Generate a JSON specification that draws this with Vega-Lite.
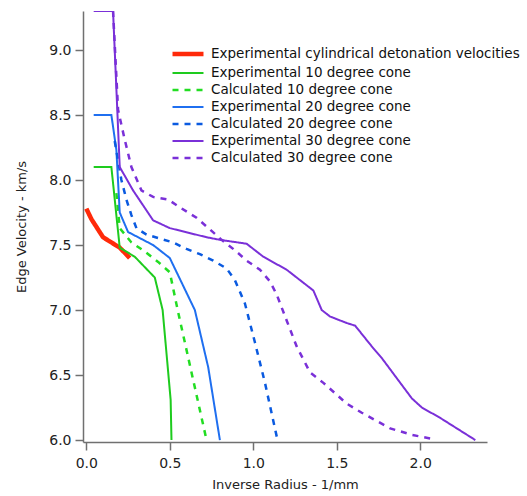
{
  "$schema": "https://vega.github.io/schema/vega-lite/v6.json",
  "autosize": {"type": "none"},
  "padding": {"left": 83, "top": 11, "right": 40, "bottom": 54},
  "width": 404,
  "height": 431,
  "background": "white",
  "config": {
    "font": "DejaVu Sans",
    "view": {"stroke": null},
    "axis": {
      "grid": false,
      "domainColor": "#707070",
      "domainWidth": 1.5,
      "tickColor": "#707070",
      "tickWidth": 1.5,
      "tickSize": 8,
      "labelFont": "DejaVu Sans",
      "labelFontSize": 14,
      "labelColor": "#222222",
      "titleFont": "DejaVu Sans",
      "titleFontSize": 13,
      "titleFontWeight": "normal",
      "titleColor": "#222222"
    }
  },
  "data": {
    "values": [
      {"s": "Experimental cylindrical detonation velocities", "x": 0.0, "y": 7.78},
      {"s": "Experimental cylindrical detonation velocities", "x": 0.03, "y": 7.70},
      {"s": "Experimental cylindrical detonation velocities", "x": 0.06, "y": 7.64},
      {"s": "Experimental cylindrical detonation velocities", "x": 0.10, "y": 7.56},
      {"s": "Experimental cylindrical detonation velocities", "x": 0.15, "y": 7.52},
      {"s": "Experimental cylindrical detonation velocities", "x": 0.20, "y": 7.48},
      {"s": "Experimental cylindrical detonation velocities", "x": 0.26, "y": 7.40},

      {"s": "Experimental 10 degree cone", "x": 0.044, "y": 8.10},
      {"s": "Experimental 10 degree cone", "x": 0.15, "y": 8.10},
      {"s": "Experimental 10 degree cone", "x": 0.20, "y": 7.48},
      {"s": "Experimental 10 degree cone", "x": 0.29, "y": 7.41},
      {"s": "Experimental 10 degree cone", "x": 0.41, "y": 7.25},
      {"s": "Experimental 10 degree cone", "x": 0.457, "y": 7.0},
      {"s": "Experimental 10 degree cone", "x": 0.505, "y": 6.31},
      {"s": "Experimental 10 degree cone", "x": 0.51, "y": 6.0},

      {"s": "Calculated 10 degree cone", "x": 0.18, "y": 7.9},
      {"s": "Calculated 10 degree cone", "x": 0.20, "y": 7.63},
      {"s": "Calculated 10 degree cone", "x": 0.27, "y": 7.52},
      {"s": "Calculated 10 degree cone", "x": 0.35, "y": 7.45},
      {"s": "Calculated 10 degree cone", "x": 0.43, "y": 7.37},
      {"s": "Calculated 10 degree cone", "x": 0.50, "y": 7.29},
      {"s": "Calculated 10 degree cone", "x": 0.547, "y": 7.0},
      {"s": "Calculated 10 degree cone", "x": 0.63, "y": 6.52},
      {"s": "Calculated 10 degree cone", "x": 0.72, "y": 6.0},

      {"s": "Experimental 20 degree cone", "x": 0.044, "y": 8.5},
      {"s": "Experimental 20 degree cone", "x": 0.15, "y": 8.5},
      {"s": "Experimental 20 degree cone", "x": 0.18, "y": 8.23},
      {"s": "Experimental 20 degree cone", "x": 0.20, "y": 7.75},
      {"s": "Experimental 20 degree cone", "x": 0.25, "y": 7.60},
      {"s": "Experimental 20 degree cone", "x": 0.40, "y": 7.50},
      {"s": "Experimental 20 degree cone", "x": 0.50, "y": 7.40},
      {"s": "Experimental 20 degree cone", "x": 0.65, "y": 7.0},
      {"s": "Experimental 20 degree cone", "x": 0.73, "y": 6.56},
      {"s": "Experimental 20 degree cone", "x": 0.80, "y": 6.0},

      {"s": "\u00a0Calculated 20 degree cone", "x": 0.17, "y": 8.3},
      {"s": "\u00a0Calculated 20 degree cone", "x": 0.21, "y": 8.0},
      {"s": "\u00a0Calculated 20 degree cone", "x": 0.24, "y": 7.85},
      {"s": "\u00a0Calculated 20 degree cone", "x": 0.27, "y": 7.73},
      {"s": "\u00a0Calculated 20 degree cone", "x": 0.30, "y": 7.63},
      {"s": "\u00a0Calculated 20 degree cone", "x": 0.36, "y": 7.58},
      {"s": "\u00a0Calculated 20 degree cone", "x": 0.44, "y": 7.55},
      {"s": "\u00a0Calculated 20 degree cone", "x": 0.52, "y": 7.52},
      {"s": "\u00a0Calculated 20 degree cone", "x": 0.60, "y": 7.47},
      {"s": "\u00a0Calculated 20 degree cone", "x": 0.68, "y": 7.43},
      {"s": "\u00a0Calculated 20 degree cone", "x": 0.76, "y": 7.38},
      {"s": "\u00a0Calculated 20 degree cone", "x": 0.84, "y": 7.32},
      {"s": "\u00a0Calculated 20 degree cone", "x": 0.89, "y": 7.23},
      {"s": "\u00a0Calculated 20 degree cone", "x": 0.92, "y": 7.14},
      {"s": "\u00a0Calculated 20 degree cone", "x": 0.95, "y": 7.05},
      {"s": "\u00a0Calculated 20 degree cone", "x": 1.01, "y": 6.75},
      {"s": "\u00a0Calculated 20 degree cone", "x": 1.07, "y": 6.44},
      {"s": "\u00a0Calculated 20 degree cone", "x": 1.145, "y": 6.0},

      {"s": "Experimental 30 degree cone", "x": 0.044, "y": 9.3},
      {"s": "Experimental 30 degree cone", "x": 0.16, "y": 9.3},
      {"s": "Experimental 30 degree cone", "x": 0.20, "y": 8.1},
      {"s": "Experimental 30 degree cone", "x": 0.28, "y": 7.92},
      {"s": "Experimental 30 degree cone", "x": 0.40, "y": 7.69},
      {"s": "Experimental 30 degree cone", "x": 0.50, "y": 7.63},
      {"s": "Experimental 30 degree cone", "x": 0.72, "y": 7.56},
      {"s": "Experimental 30 degree cone", "x": 0.80, "y": 7.54},
      {"s": "Experimental 30 degree cone", "x": 0.96, "y": 7.51},
      {"s": "Experimental 30 degree cone", "x": 1.06, "y": 7.41},
      {"s": "Experimental 30 degree cone", "x": 1.20, "y": 7.31},
      {"s": "Experimental 30 degree cone", "x": 1.36, "y": 7.15},
      {"s": "Experimental 30 degree cone", "x": 1.41, "y": 7.0},
      {"s": "Experimental 30 degree cone", "x": 1.46, "y": 6.95},
      {"s": "Experimental 30 degree cone", "x": 1.56, "y": 6.90},
      {"s": "Experimental 30 degree cone", "x": 1.61, "y": 6.88},
      {"s": "Experimental 30 degree cone", "x": 1.71, "y": 6.72},
      {"s": "Experimental 30 degree cone", "x": 1.77, "y": 6.63},
      {"s": "Experimental 30 degree cone", "x": 1.95, "y": 6.32},
      {"s": "Experimental 30 degree cone", "x": 2.01, "y": 6.25},
      {"s": "Experimental 30 degree cone", "x": 2.12, "y": 6.17},
      {"s": "Experimental 30 degree cone", "x": 2.33, "y": 6.0},

      {"s": "\u00a0Calculated 30 degree cone", "x": 0.16, "y": 9.3},
      {"s": "\u00a0Calculated 30 degree cone", "x": 0.19, "y": 8.54},
      {"s": "\u00a0Calculated 30 degree cone", "x": 0.23, "y": 8.31},
      {"s": "\u00a0Calculated 30 degree cone", "x": 0.27, "y": 8.10},
      {"s": "\u00a0Calculated 30 degree cone", "x": 0.33, "y": 7.92},
      {"s": "\u00a0Calculated 30 degree cone", "x": 0.40, "y": 7.87},
      {"s": "\u00a0Calculated 30 degree cone", "x": 0.49, "y": 7.85},
      {"s": "\u00a0Calculated 30 degree cone", "x": 0.56, "y": 7.79},
      {"s": "\u00a0Calculated 30 degree cone", "x": 0.66, "y": 7.71},
      {"s": "\u00a0Calculated 30 degree cone", "x": 0.74, "y": 7.62},
      {"s": "\u00a0Calculated 30 degree cone", "x": 0.81, "y": 7.54},
      {"s": "\u00a0Calculated 30 degree cone", "x": 0.89, "y": 7.46},
      {"s": "\u00a0Calculated 30 degree cone", "x": 0.96, "y": 7.38},
      {"s": "\u00a0Calculated 30 degree cone", "x": 1.04, "y": 7.31},
      {"s": "\u00a0Calculated 30 degree cone", "x": 1.10, "y": 7.22},
      {"s": "\u00a0Calculated 30 degree cone", "x": 1.14, "y": 7.12},
      {"s": "\u00a0Calculated 30 degree cone", "x": 1.20, "y": 6.92},
      {"s": "\u00a0Calculated 30 degree cone", "x": 1.26, "y": 6.72},
      {"s": "\u00a0Calculated 30 degree cone", "x": 1.34, "y": 6.52},
      {"s": "\u00a0Calculated 30 degree cone", "x": 1.42, "y": 6.44},
      {"s": "\u00a0Calculated 30 degree cone", "x": 1.56, "y": 6.28},
      {"s": "\u00a0Calculated 30 degree cone", "x": 1.65, "y": 6.21},
      {"s": "\u00a0Calculated 30 degree cone", "x": 1.82, "y": 6.09},
      {"s": "\u00a0Calculated 30 degree cone", "x": 1.95, "y": 6.04},
      {"s": "\u00a0Calculated 30 degree cone", "x": 2.07, "y": 6.01}
    ]
  },
  "mark": {"type": "line", "clip": true},
  "encoding": {
    "x": {
      "field": "x", "type": "quantitative",
      "scale": {"domain": [-0.02, 2.4], "nice": false, "zero": false},
      "axis": {"title": "Inverse Radius - 1/mm", "values": [0, 0.5, 1, 1.5, 2], "format": ".1f", "labelPadding": 6, "titlePadding": 8}
    },
    "y": {
      "field": "y", "type": "quantitative",
      "scale": {"domain": [5.985, 9.3], "nice": false, "zero": false},
      "axis": {"title": "Edge Velocity - km/s", "values": [6, 6.5, 7, 7.5, 8, 8.5, 9], "format": ".1f", "labelPadding": 4, "titlePadding": 20}
    },
    "color": {
      "field": "s", "type": "nominal",
      "scale": {
        "domain": ["Experimental cylindrical detonation velocities", "Experimental 10 degree cone", "Calculated 10 degree cone", "Experimental 20 degree cone", "\u00a0Calculated 20 degree cone", "Experimental 30 degree cone", "\u00a0Calculated 30 degree cone"],
        "range": ["#ff2a0a", "#1ecb1e", "#22dd22", "#1f6ff0", "#0a5ae0", "#7a30d8", "#7a30d8"]
      },
      "legend": {
        "title": null, "orient": "none", "legendX": 95, "legendY": 33,
        "labelFontSize": 13.5, "labelFont": "DejaVu Sans", "labelColor": "#111111",
        "symbolType": "M-2,0H2", "symbolSize": 240, "labelOffset": 13, "rowPadding": 1, "padding": 0,
        "labelLimit": 400
      }
    },
    "strokeDash": {
      "field": "s", "type": "nominal",
      "scale": {
        "domain": ["Experimental cylindrical detonation velocities", "Experimental 10 degree cone", "Calculated 10 degree cone", "Experimental 20 degree cone", "\u00a0Calculated 20 degree cone", "Experimental 30 degree cone", "\u00a0Calculated 30 degree cone"],
        "range": [[1, 0], [1, 0], [6, 6], [1, 0], [6, 6], [1, 0], [6, 6]]
      }
    },
    "strokeWidth": {
      "field": "s", "type": "nominal",
      "scale": {
        "type": "ordinal",
        "domain": ["Experimental cylindrical detonation velocities", "Experimental 10 degree cone", "Calculated 10 degree cone", "Experimental 20 degree cone", "\u00a0Calculated 20 degree cone", "Experimental 30 degree cone", "\u00a0Calculated 30 degree cone"],
        "range": [4.5, 2, 2.5, 2, 2.5, 2, 2.5]
      }
    }
  }
}
